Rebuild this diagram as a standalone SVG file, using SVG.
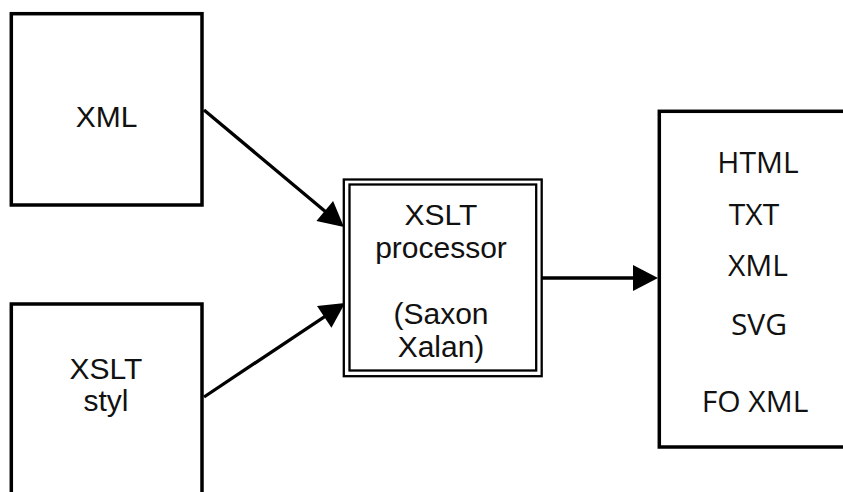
<svg xmlns="http://www.w3.org/2000/svg" width="843" height="492" viewBox="0 0 843 492">
  <style>
    .box { fill: #ffffff; stroke: #000000; stroke-width: 3.5; }
    .frame { fill: none; stroke: #000000; stroke-width: 2.3; }
    .lbl { font-family: "Liberation Sans", Arial, sans-serif; font-size: 30px; fill: #111111; text-anchor: middle; }
    .out { font-family: "Open Sans", "Noto Sans", sans-serif; font-size: 30px; fill: #111111; text-anchor: middle; }
    .edge { fill: none; stroke: #000000; stroke-width: 3.3; }
  </style>
  <defs>
    <marker id="head" markerUnits="userSpaceOnUse" markerWidth="26" markerHeight="26" viewBox="0 0 25 26" refX="5" refY="13" orient="auto">
      <path d="M0,0 L25,13 L0,26 z" fill="#000000"/>
    </marker>
  </defs>
  <rect x="0" y="0" width="843" height="492" fill="#ffffff"/>

  <!-- source document -->
  <g id="xml-input">
    <rect class="box" x="11.3" y="13.7" width="190.7" height="191.3"/>
    <text class="lbl" x="106.5" y="127">XML</text>
  </g>

  <!-- stylesheet -->
  <g id="xslt-stylesheet">
    <rect class="box" x="11.3" y="304" width="190.7" height="220"/>
    <text class="lbl" x="106" y="379">XSLT</text>
    <text class="lbl" x="106" y="411">styl</text>
  </g>

  <!-- processor with double border -->
  <g id="xslt-processor">
    <rect class="frame" x="343.8" y="179.5" width="197.9" height="196.7" fill="#ffffff"/>
    <rect class="frame" x="349.5" y="184.5" width="186.7" height="186"/>
    <text class="lbl" x="441" y="225">XSLT</text>
    <text class="lbl" x="441" y="258">processor</text>
    <text class="lbl" x="441" y="324">(Saxon</text>
    <text class="lbl" x="441" y="357">Xalan)</text>
  </g>

  <!-- output formats -->
  <g id="output">
    <rect class="box" x="659.3" y="111.3" width="220" height="335.7"/>
    <text class="out" x="758" y="173">HTML</text>
    <text class="out" x="754" y="225">TXT</text>
    <text class="out" x="758" y="276">XML</text>
    <text class="out" x="759" y="335">SVG</text>
    <text class="out" x="755" y="412">FO XML</text>
  </g>

  <g id="connectors">
    <line class="edge" x1="204" y1="110" x2="328.6" y2="214.2" marker-end="url(#head)"/>
    <line class="edge" x1="204" y1="397" x2="328.4" y2="314.1" marker-end="url(#head)"/>
    <line class="edge" x1="541" y1="278" x2="638" y2="278" marker-end="url(#head)"/>
  </g>
</svg>
